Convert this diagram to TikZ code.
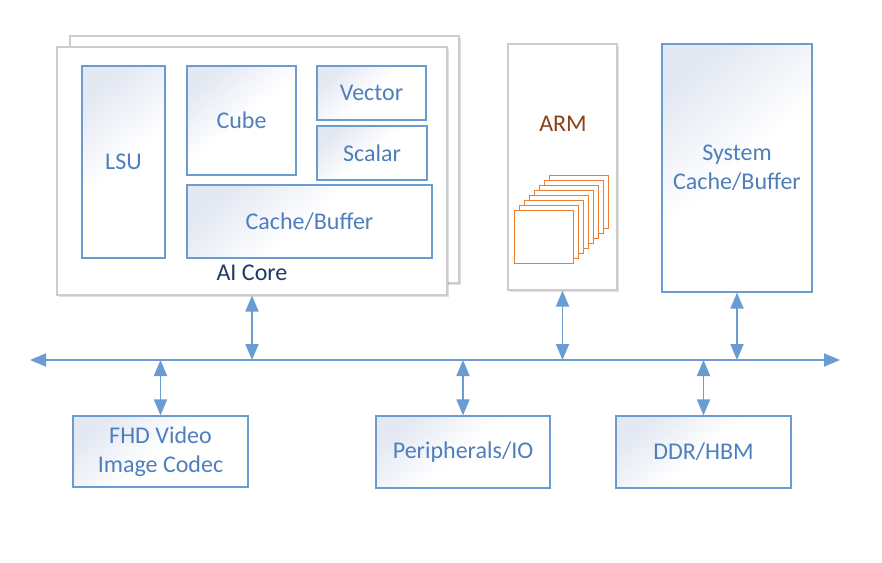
\documentclass[tikz,border=0pt]{standalone}
\usepackage{fontspec}
\setmainfont{Carlito}
\usetikzlibrary{arrows.meta,positioning,shadows}
\definecolor{bg}{HTML}{FFFFFF}
\definecolor{edge}{HTML}{6C9BD2}
\definecolor{wire}{HTML}{6A9BD3}
\definecolor{label}{HTML}{4E7FBC}
\definecolor{navy}{HTML}{1F3A64}
\definecolor{frame}{HTML}{CCCCCC}
\definecolor{tint}{HTML}{E3E8F2}
\definecolor{armtext}{HTML}{8A4216}
\definecolor{corecol}{HTML}{ED7D31}
\tikzset{
  txt/.style={font=\fontsize{24}{29}\selectfont, align=center, inner sep=0pt},
  unit/.style={txt, draw=edge, line width=1.2pt, top color=tint, bottom color=white, middle color=white, shading angle=40, text=label},
  plate/.style={draw=frame, line width=1.2pt, fill=white, drop shadow={shadow xshift=1.5pt, shadow yshift=-1.5pt, opacity=0.25}},
  link/.style={draw=wire, line width=1.8pt, {Triangle[length=16pt, width=13pt]}-{Triangle[length=16pt, width=13pt]}},
  cpu/.style={draw=corecol, line width=1pt, fill=white},
}
\begin{document}
\begin{tikzpicture}[x=1pt, y=-1pt]
\useasboundingbox[fill=bg] (0,0) rectangle (882,562);
\node[plate, minimum width=389, minimum height=247] (coreback) at (264.5,159.5) {};
\node[plate, minimum width=390, minimum height=248] (corefront) at (252,171) {};
\node[unit, minimum width=83, minimum height=192] (lsu) at (123.5,162) {LSU};
\node[unit, minimum width=109, minimum height=109] (cube) at (241.5,120.5) {Cube};
\node[unit, minimum width=109, minimum height=54] (vector) at (371.5,93) {Vector};
\node[unit, minimum width=110, minimum height=54] (scalar) at (372,153) {Scalar};
\node[unit, minimum width=245, minimum height=73] (cache) at (309.5,221.5) {Cache/Buffer};
\node[txt, text=navy] (corelabel) at (252,273) {AI Core};
\node[plate, minimum width=109, minimum height=246] (arm) at (562.5,167) {};
\node[txt, text=armtext] (armlabel) at (563,124) {ARM};
\foreach \k in {7,6,...,0}
  \draw[cpu] (514+5*\k,210-5*\k) rectangle (573+5*\k,263-5*\k);
\node[unit, minimum width=150, minimum height=248] (syscache) at (737,168) {System\\Cache/Buffer};
\node[unit, minimum width=175, minimum height=71] (codec) at (160.5,451.5) {FHD Video\\Image Codec};
\node[unit, minimum width=174, minimum height=72] (periph) at (463,452) {Peripherals/IO};
\node[unit, minimum width=175, minimum height=72] (ddr) at (703.5,452) {DDR/HBM};
\coordinate (busL) at (30,360);
\coordinate (busR) at (840,360);
\draw[link] (busL) -- (busR);
\draw[link] (corefront.south) -- (corefront.south |- busL);
\draw[link] (arm.south) -- (arm.south |- busL);
\draw[link] (syscache.south) -- (syscache.south |- busL);
\draw[link] (codec.north) -- (codec.north |- busL);
\draw[link] (periph.north) -- (periph.north |- busL);
\draw[link] (ddr.north) -- (ddr.north |- busL);
\end{tikzpicture}
\end{document}
